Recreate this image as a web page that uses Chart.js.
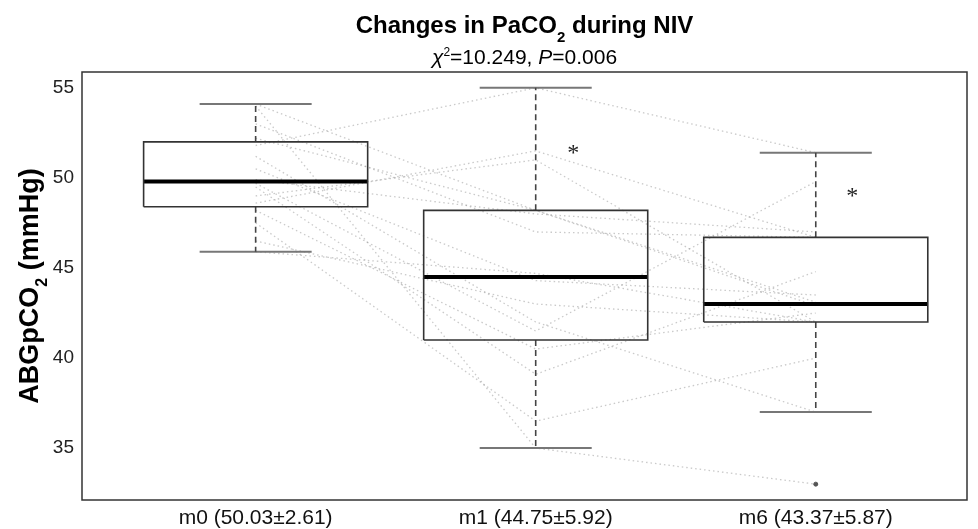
<!DOCTYPE html>
<html>
<head>
<meta charset="utf-8">
<title>Changes in PaCO2 during NIV</title>
<script src="https://cdn.jsdelivr.net/npm/chart.js@4.4.1/dist/chart.umd.min.js"></script>
<style>
  html, body { margin: 0; padding: 0; background: #fff; }
</style>
</head>
<body>
<canvas id="chart" width="978" height="529"></canvas>
<script>
// time points (label text includes mean±SD shown under each box)
const categories = ['m0 (50.03\u00b12.61)', 'm1 (44.75\u00b15.92)', 'm6 (43.37\u00b15.87)'];

// PaCO2 per patient, same patient order in each list (mmHg)
const m0Values = [51.8, 48.6, 54.1, 54.0, 49.7, 49.5, 52.2, 50.5, 51.2, 45.9, 47.5, 53.0, 49.0, 48.2, 46.5, 49.9];
const m1Values = [55.0, 51.5, 48.2, 35.0, 41.5, 39.1, 48.2, 44.3, 42.0, 44.7, 36.5, 47.0, 51.0, 40.5, 43.0, 48.0];
const m6Values = [51.4, 46.7, 43.1, 33.0, 49.8, 44.8, 42.9, 43.5, 37.0, 42.0, 40.0, 46.7, 42.0, 42.5, 42.0, 47.0];

// box plot statistics as drawn
const boxMin = [45.9, 35.0, 37.0];
const boxQ1 = [48.4, 41.0, 42.0];
const boxMedian = [49.8, 44.5, 43.0];
const boxQ3 = [52.0, 48.2, 46.7];
const boxMax = [54.1, 55.0, 51.4];
const outliers = [[], [], [33.0]];

const yTicks = [35, 40, 45, 50, 55];

const FONT = "'Liberation Sans', Arial, Helvetica, sans-serif";

function seg(points, style) {
  return Object.assign({
    data: points.map(p => ({ x: p[0], y: p[1] })),
    showLine: true,
    pointRadius: 0,
    fill: false,
    order: 0
  }, style);
}

const datasets = [];
const half = 0.4;     // box half width (category units)
const capHalf = 0.2;  // whisker cap half width

categories.forEach((c, i) => {
  const x = i + 1;
  // box
  datasets.push(seg([[x - half, boxQ1[i]], [x + half, boxQ1[i]], [x + half, boxQ3[i]], [x - half, boxQ3[i]], [x - half, boxQ1[i]]],
    { borderColor: '#333', borderWidth: 1.6 }));
  // median
  datasets.push(seg([[x - half, boxMedian[i]], [x + half, boxMedian[i]]],
    { borderColor: '#000', borderWidth: 4 }));
  // whiskers
  datasets.push(seg([[x, boxQ3[i]], [x, boxMax[i]]], { borderColor: '#444', borderWidth: 1.6, borderDash: [6, 4] }));
  datasets.push(seg([[x, boxQ1[i]], [x, boxMin[i]]], { borderColor: '#444', borderWidth: 1.6, borderDash: [6, 4] }));
  // caps
  datasets.push(seg([[x - capHalf, boxMax[i]], [x + capHalf, boxMax[i]]], { borderColor: '#777', borderWidth: 2 }));
  datasets.push(seg([[x - capHalf, boxMin[i]], [x + capHalf, boxMin[i]]], { borderColor: '#777', borderWidth: 2 }));
  // outliers
  if (outliers[i].length) {
    datasets.push({
      data: outliers[i].map(v => ({ x: x, y: v })),
      showLine: false,
      pointRadius: 2,
      pointBackgroundColor: '#555',
      pointBorderColor: '#555',
      order: 0
    });
  }
});

// individual patient trajectories (faint dotted lines)
m0Values.forEach((v, k) => {
  datasets.push({
    data: [{ x: 1, y: v }, { x: 2, y: m1Values[k] }, { x: 3, y: m6Values[k] }],
    showLine: true,
    pointRadius: 0,
    borderColor: 'rgba(150,150,150,0.5)',
    borderWidth: 1.3,
    borderDash: [1.5, 3],
    order: 1
  });
});

// draws a string made of pieces: {t, font, dy}
function drawPieces(ctx, pieces, cx, y) {
  let total = 0;
  pieces.forEach(p => { ctx.font = p.font; p.w = ctx.measureText(p.t).width; total += p.w; });
  let x = cx - total / 2;
  pieces.forEach(p => {
    ctx.font = p.font;
    ctx.fillText(p.t, x, y + (p.dy || 0));
    x += p.w;
  });
}

const decorPlugin = {
  id: 'decor',
  afterDraw(chart) {
    const ctx = chart.ctx;
    const a = chart.chartArea;
    const xs = chart.scales.x, ys = chart.scales.y;
    ctx.save();

    // frame round the plot
    ctx.strokeStyle = '#333';
    ctx.lineWidth = 1.5;
    ctx.strokeRect(a.left, a.top, a.right - a.left, a.bottom - a.top);

    ctx.fillStyle = '#000';
    ctx.textAlign = 'left';
    ctx.textBaseline = 'alphabetic';
    const cx = (a.left + a.right) / 2;

    // title
    drawPieces(ctx, [
      { t: 'Changes in PaCO', font: 'bold 24px ' + FONT },
      { t: '2', font: 'bold 15px ' + FONT, dy: 9 },
      { t: ' during NIV', font: 'bold 24px ' + FONT }
    ], cx, 33);

    // test statistic
    drawPieces(ctx, [
      { t: '\u03c7', font: 'italic 21px ' + FONT },
      { t: '2', font: '12px ' + FONT, dy: -8 },
      { t: '=10.249, ', font: '21px ' + FONT },
      { t: 'P', font: 'italic 21px ' + FONT },
      { t: '=0.006', font: '21px ' + FONT }
    ], cx, 64);

    // y axis title
    ctx.save();
    ctx.translate(38, (a.top + a.bottom) / 2);
    ctx.rotate(-Math.PI / 2);
    drawPieces(ctx, [
      { t: 'ABGpCO', font: 'bold 27px ' + FONT },
      { t: '2', font: 'bold 16px ' + FONT, dy: 9 },
      { t: ' (mmHg)', font: 'bold 27px ' + FONT }
    ], 0, 0);
    ctx.restore();

    // significance marks next to m1 and m6
    ctx.font = '24px "Liberation Serif", "Times New Roman", serif';
    ctx.textAlign = 'center';
    ctx.fillStyle = '#222';
    ctx.fillText('*', xs.getPixelForValue(2.134), ys.getPixelForValue(51.6) + 11);
    ctx.fillText('*', xs.getPixelForValue(3.13), ys.getPixelForValue(49.2) + 11);

    ctx.restore();
  }
};

new Chart(document.getElementById('chart'), {
  type: 'scatter',
  data: { datasets: datasets },
  options: {
    responsive: false,
    animation: false,
    layout: { padding: { top: 72, right: 11, left: 0, bottom: 0 } },
    plugins: {
      legend: { display: false },
      tooltip: { enabled: false },
      title: { display: false }
    },
    scales: {
      x: {
        type: 'linear',
        min: 0.38,
        max: 3.54,
        grid: { display: false, drawTicks: false },
        border: { display: false },
        afterBuildTicks: s => { s.ticks = categories.map((c, i) => ({ value: i + 1 })); },
        afterFit: s => { s.height = 29; },
        ticks: {
          callback: v => categories[Math.round(v) - 1],
          font: { family: FONT, size: 21 },
          color: '#111',
          padding: 6,
          maxRotation: 0,
          autoSkip: false
        }
      },
      y: {
        type: 'linear',
        min: 32.12,
        max: 55.88,
        grid: { display: false, drawTicks: false },
        border: { display: false },
        afterBuildTicks: s => { s.ticks = yTicks.map(v => ({ value: v })); },
        afterFit: s => { s.width = 82; },
        ticks: {
          font: { family: FONT, size: 19 },
          color: '#222',
          padding: 8
        }
      }
    }
  },
  plugins: [decorPlugin]
});
</script>
</body>
</html>
